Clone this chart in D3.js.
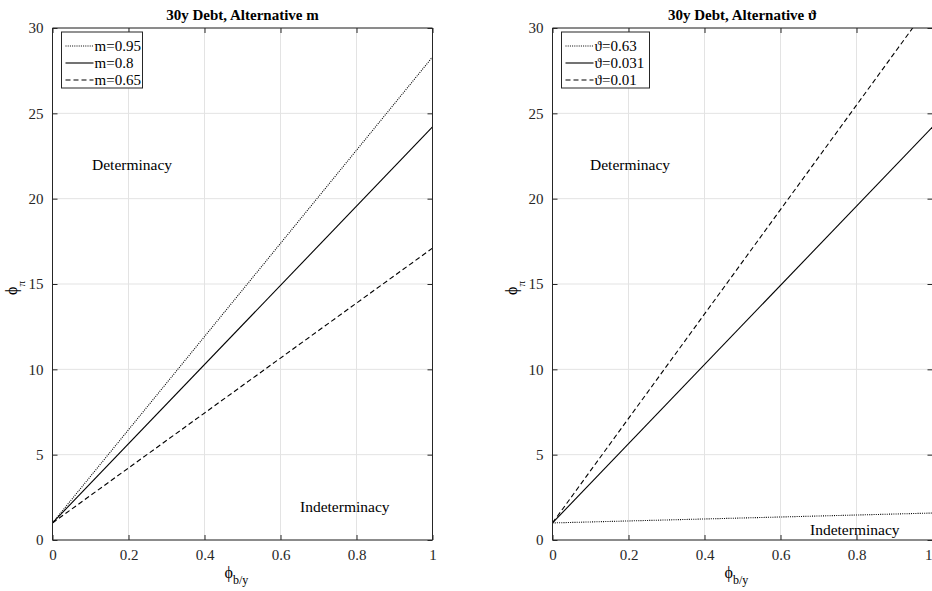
<!DOCTYPE html>
<html>
<head>
<meta charset="utf-8">
<script src="https://cdn.jsdelivr.net/npm/d3@7"></script>
<style>
  body { margin: 0; background: #fff; }
  svg text { font-family: "Liberation Serif", "Times New Roman", Times, serif; }
</style>
</head>
<body>
<svg id="chart" width="932" height="591"></svg>
<script>
// Boundary lines phi_pi = a + b * phi_{b/y}, given by their end points at phi_{b/y} = 0 and 1
const xDomain = [0, 1];
const xTicks = [0, 0.2, 0.4, 0.6, 0.8, 1];
const yTicks = [0, 5, 10, 15, 20, 25, 30];

const leftTitle = "30y Debt, Alternative m";
const leftLabels = ["m=0.95", "m=0.8", "m=0.65"];
const leftStart = [1, 1, 1];
const leftEnd = [28.3, 24.2, 17.1];

const rightTitle = "30y Debt, Alternative \u03D1";
const rightLabels = ["\u03D1=0.63", "\u03D1=0.031", "\u03D1=0.01"];
const rightStart = [1, 1, 1];
const rightEnd = [1.58, 24.2, 31.6];

const dashStyles = ["1,1.2", null, "5,3"];
const FONT = "Liberation Serif";

const svg = d3.select("#chart");

function panel(opts) {
  const { left, width, top, height, title, labels, starts, ends, legendW, textPos, clipLastTick } = opts;
  const x = d3.scaleLinear().domain(xDomain).range([left, left + width]);
  const y = d3.scaleLinear().domain([0, 30]).range([top + height, top]);
  const g = svg.append("g");

  const clipId = "clip" + Math.round(left);
  svg.append("clipPath").attr("id", clipId)
    .append("rect").attr("x", left).attr("y", top).attr("width", width).attr("height", height);

  // grid
  g.selectAll(".gx").data(xTicks).enter().append("line")
    .attr("x1", d => x(d)).attr("x2", d => x(d))
    .attr("y1", top).attr("y2", top + height)
    .attr("stroke", "#e3e3e3").attr("stroke-width", 1);
  g.selectAll(".gy").data(yTicks).enter().append("line")
    .attr("y1", d => y(d)).attr("y2", d => y(d))
    .attr("x1", left).attr("x2", left + width)
    .attr("stroke", "#e3e3e3").attr("stroke-width", 1);

  // boundary lines
  const lineGen = d3.line().x(d => x(d[0])).y(d => y(d[1]));
  labels.forEach((lab, i) => {
    g.append("path")
      .attr("clip-path", `url(#${clipId})`)
      .attr("d", lineGen([[0, starts[i]], [1, ends[i]]]))
      .attr("fill", "none").attr("stroke", "#000").attr("stroke-width", 1.1)
      .attr("stroke-dasharray", dashStyles[i]);
  });

  // axes with inward ticks
  const axB = d3.axisBottom(x).tickValues(xTicks).tickSize(-5).tickPadding(9).tickFormat(d3.format("~g"));
  const axT = d3.axisTop(x).tickValues(xTicks).tickSize(-5).tickFormat("");
  const axL = d3.axisLeft(y).tickValues(yTicks).tickSize(-5).tickPadding(9);
  const axR = d3.axisRight(y).tickValues(yTicks).tickSize(-5).tickFormat("");
  const styleAxis = sel => {
    sel.attr("font-family", FONT).attr("font-size", 15);
    sel.selectAll("path, line").attr("stroke", "#262626");
    sel.selectAll("text").attr("fill", "#262626");
  };
  const bottom = g.append("g").attr("transform", `translate(0,${top + height})`).call(axB).call(styleAxis);
  bottom.select("path").attr("d", `M${left},0H${left + width}`);
  if (clipLastTick) {
    // keep the final label inside the drawing area
    bottom.selectAll(".tick").filter(d => d === 1).select("text")
      .attr("text-anchor", "end").attr("x", 932 - (left + width));
  }
  g.append("g").attr("transform", `translate(0,${top})`).call(axT).call(styleAxis)
    .select("path").attr("d", `M${left},0H${left + width}`);
  g.append("g").attr("transform", `translate(${left},0)`).call(axL).call(styleAxis)
    .select("path").attr("d", `M0,${top}V${top + height}`);
  g.append("g").attr("transform", `translate(${left + width},0)`).call(axR).call(styleAxis)
    .select("path").attr("d", `M0,${top}V${top + height}`);

  // title
  g.append("text").attr("x", left + width / 2).attr("y", top - 8)
    .attr("text-anchor", "middle").attr("font-weight", "bold").attr("font-size", 15)
    .attr("font-family", FONT).text(title);

  // axis labels
  const xl = g.append("text").attr("x", left + width / 2 - 6).attr("y", top + height + 38)
    .attr("text-anchor", "middle").attr("font-size", 16).attr("font-family", FONT);
  xl.append("tspan").text("\u03D5");
  xl.append("tspan").attr("dy", 6).attr("font-size", 12).text("b/y");

  const yl = g.append("text")
    .attr("transform", `translate(${left - 36},${top + height / 2 + 4}) rotate(-90)`)
    .attr("text-anchor", "middle").attr("font-size", 16).attr("font-family", FONT);
  yl.append("tspan").text("\u03D5");
  yl.append("tspan").attr("dy", 8).attr("font-size", 11).text("\u03C0");

  // region annotations
  g.append("text").attr("x", textPos[0][0]).attr("y", textPos[0][1])
    .attr("font-size", 15.5).attr("font-family", FONT).text("Determinacy");
  g.append("text").attr("x", textPos[1][0]).attr("y", textPos[1][1])
    .attr("font-size", 15.5).attr("font-family", FONT).text("Indeterminacy");

  // legend
  const lx = left + 9, ly = top + 4;
  g.append("rect").attr("x", lx).attr("y", ly).attr("width", legendW).attr("height", 56)
    .attr("fill", "#fff").attr("stroke", "#262626").attr("stroke-width", 1);
  labels.forEach((lab, i) => {
    const cy = ly + 14 + i * 17;
    g.append("line").attr("x1", lx + 4).attr("x2", lx + 32).attr("y1", cy).attr("y2", cy)
      .attr("stroke", "#000").attr("stroke-width", 1.1).attr("stroke-dasharray", dashStyles[i]);
    g.append("text").attr("x", lx + 33).attr("y", cy + 5).attr("font-size", 15)
      .attr("font-family", FONT).text(lab);
  });
}

panel({
  left: 52.5, width: 380, top: 28, height: 512,
  title: leftTitle, labels: leftLabels, starts: leftStart, ends: leftEnd,
  legendW: 81, textPos: [[92, 170], [300, 512]], clipLastTick: false
});
panel({
  left: 552.5, width: 380, top: 28, height: 512,
  title: rightTitle, labels: rightLabels, starts: rightStart, ends: rightEnd,
  legendW: 88, textPos: [[590, 170], [810, 535]], clipLastTick: true
});
</script>
</body>
</html>
